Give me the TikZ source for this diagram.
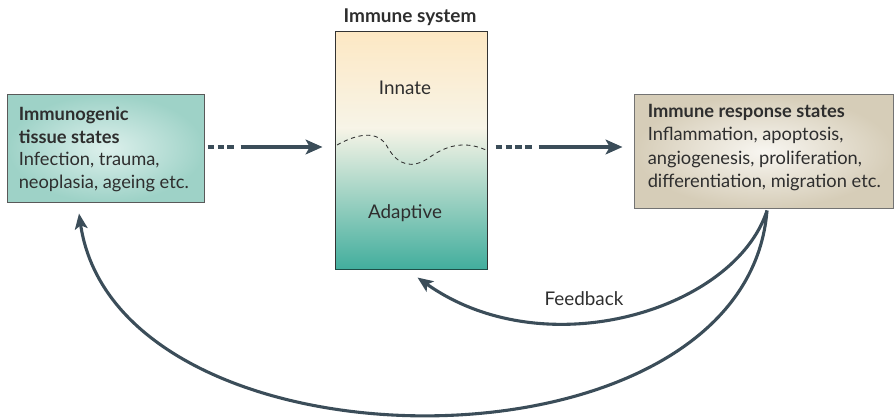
\documentclass[tikz,border=0pt]{standalone}
\usepackage{fontspec}
\setmainfont{Lato}
\usepackage{tikz}
\usetikzlibrary{calc, arrows.meta, positioning}
\definecolor{IMMslate}{HTML}{3B4D59}
\definecolor{IMMtext}{HTML}{2E2E2E}
\definecolor{IMMtealedge}{HTML}{9ED2C7}
\definecolor{IMMteallight}{HTML}{DDF0EC}
\definecolor{IMMtealdeep}{HTML}{42AE9D}
\definecolor{IMMpeach}{HTML}{FDE8C4}
\definecolor{IMMpale}{HTML}{F7F4E7}
\definecolor{IMMsandedge}{HTML}{D6CDB8}
\definecolor{IMMsandlight}{HTML}{F8F6F1}

\begin{document}
\begin{tikzpicture}[x=0.025cm, y=-0.025cm]
    % immune-loop.tex -- tissue states, immune system, response states
\tikzset{
  statetext/.style={align=left, anchor=west, inner sep=0pt, text=IMMtext,
    font=\fontsize{13}{16.2}\selectfont},
  label/.style={text=IMMtext, font=\fontsize{13.4}{15}\selectfont},
  flowarrow/.style={IMMslate, line width=3pt,
    -{Stealth[length=12pt, width=10.5pt, inset=3pt]}},
  loopline/.style={IMMslate, line width=2.2pt,
    -{Stealth[length=11pt, width=9pt, inset=2.5pt]}},
}
  \useasboundingbox (0,0) rectangle (895,418);

  % Left box: immunogenic tissue states
  \node[draw=black!65, line width=0.7pt, inner color=IMMteallight,
    outer color=IMMtealedge, minimum width=4.9cm, minimum height=2.675cm]
    (tissue) at (106,148.5) {};
  \node[statetext] (tissuetext) at ($(tissue.west)+(11,1)$)
    {\textbf{Immunogenic}\\ \textbf{tissue states}\\ Infection, trauma,\\ neoplasia, ageing etc.};

  % Centre box: immune system, innate over adaptive
  \shade[top color=IMMpeach, bottom color=IMMpale] (336,32) rectangle (487,128);
  \shade[top color=IMMpale, bottom color=IMMtealdeep] (336,128) rectangle (487,269);
  \node[draw=black!80, line width=0.7pt, minimum width=3.775cm, minimum height=5.925cm]
    (immune) at (411.5,150.5) {};
  \draw[IMMtealdeep!45!black, line width=1.3pt]
    (immune.south west) -- (immune.south east);
  \node[label, font=\fontsize{13.5}{15}\selectfont\bfseries] (immunetitle)
    at (410,17) {Immune system};
  \node[label] (innate) at (405,88) {Innate};
  \node[label] (adaptive) at (405,213) {Adaptive};
  \draw[IMMtext, line width=0.6pt, dash pattern=on 3pt off 2.5pt]
    (337,145) .. controls (355,135) and (378,128) .. (388,148)
    .. controls (398,165) and (412,170) .. (430,157)
    .. controls (450,143) and (468,142) .. (486,150);

  % Right box: immune response states
  \node[draw=black!55, line width=0.7pt, inner color=IMMsandlight,
    outer color=IMMsandedge, minimum width=6.45cm, minimum height=2.825cm]
    (response) at (764,151.5) {};
  \node[statetext, font=\fontsize{13}{16.6}\selectfont] (responsetext)
    at ($(response.west)+(13,-4)$)
    {\textbf{Immune response states}\\ Inflammation, apoptosis,\\ angiogenesis, proliferation,\\ differentiation, migration etc.};

  % Forward arrows (dotted lead-in, then solid)
  \draw[flowarrow, dash pattern=on 4.3pt off 2.8pt on 4.3pt off 2.8pt on 4.3pt off 5pt on 300pt]
    ($(tissue.east)+(3,-1.5)$) -- ($(immune.west |- tissue.east)+(-13,-1.5)$);
  \draw[flowarrow, dash pattern=on 4.3pt off 2.8pt on 4.3pt off 2.8pt on 4.3pt off 2.8pt on 4.3pt off 5pt on 300pt]
    ($(immune.east |- tissue.east)+(8,-1.5)$) -- ($(response.west |- tissue.east)+(-12,-1.5)$);

  % Feedback loop back to the immune system
  \draw[loopline] ($(response.south)+(3,2)$) .. controls (735,310) and (545,368) ..
    ($(immune.south)+(6,8)$);
  \node[label] (feedback) at (584,299) {Feedback};

  % Long loop back to the tissue states
  \draw[loopline] ($(response.south)+(3,2)$) .. controls (745,484) and (118,480) ..
    ($(tissue.south)+(-27,11)$);

  \end{tikzpicture}
\end{document}
